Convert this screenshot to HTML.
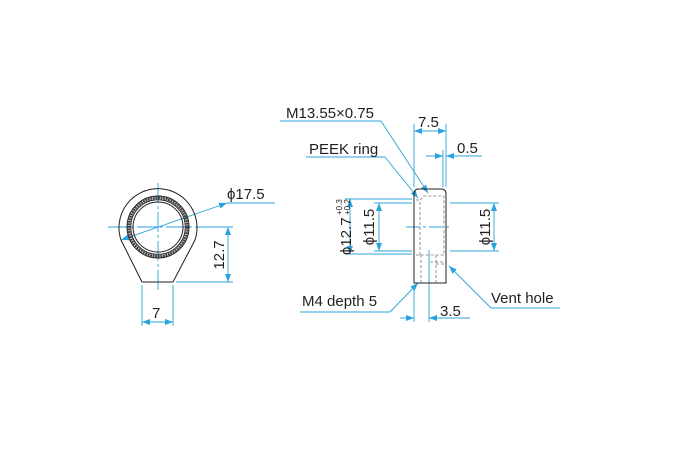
<!DOCTYPE html>
<html><head><meta charset="utf-8"><style>
html,body{margin:0;padding:0;background:#fff}
svg{display:block}
text{font-family:"Liberation Sans",sans-serif;font-size:15px;fill:#231f20}
</style></head><body>
<svg width="691" height="469" viewBox="0 0 691 469" xmlns="http://www.w3.org/2000/svg">
<defs>
<marker id="a" markerWidth="8" markerHeight="6" refX="8" refY="3" orient="auto-start-reverse" markerUnits="userSpaceOnUse"><path d="M0,0 L8,3 L0,6 z" fill="#29a3dc"/></marker>
</defs>
<g fill="none" stroke="#29a3dc" stroke-width="0.9">
<line x1="158" y1="183" x2="158" y2="290" stroke-dasharray="20,3,3,3"/>
<line x1="108" y1="227" x2="200" y2="227" stroke-dasharray="20,3,3,3"/>
<line x1="121" y1="240" x2="227" y2="203" marker-start="url(#a)" marker-end="url(#a)"/>
<line x1="227" y1="203" x2="275" y2="203"/>
<line x1="200" y1="227" x2="233" y2="227"/>
<line x1="176" y1="282" x2="233" y2="282"/>
<line x1="228" y1="227" x2="228" y2="282" marker-start="url(#a)" marker-end="url(#a)"/>
<line x1="142" y1="285" x2="142" y2="326"/>
<line x1="173" y1="285" x2="173" y2="326"/>
<line x1="142" y1="322" x2="173" y2="322" marker-start="url(#a)" marker-end="url(#a)"/>
<line x1="414" y1="124" x2="414" y2="187"/>
<line x1="446" y1="124" x2="446" y2="187"/>
<line x1="414" y1="131" x2="446" y2="131" marker-start="url(#a)" marker-end="url(#a)"/>
<line x1="443" y1="150" x2="443" y2="187"/>
<line x1="426" y1="156" x2="443" y2="156" marker-end="url(#a)"/>
<line x1="446" y1="156" x2="482" y2="156" marker-start="url(#a)"/>
<line x1="345" y1="199" x2="412" y2="199"/>
<line x1="345" y1="254" x2="412" y2="254"/>
<line x1="374" y1="203" x2="412" y2="203"/>
<line x1="374" y1="251" x2="412" y2="251"/>
<line x1="450" y1="203" x2="499" y2="203"/>
<line x1="450" y1="251" x2="499" y2="251"/>
<line x1="350" y1="199" x2="350" y2="254" marker-start="url(#a)" marker-end="url(#a)"/>
<line x1="379" y1="203" x2="379" y2="251" marker-start="url(#a)" marker-end="url(#a)"/>
<line x1="494" y1="203" x2="494" y2="251" marker-start="url(#a)" marker-end="url(#a)"/>
<line x1="406" y1="227" x2="452" y2="227" stroke-dasharray="14,3,3,3"/>
<line x1="429" y1="250" x2="429" y2="322"/>
<line x1="414" y1="285" x2="414" y2="322"/>
<line x1="400" y1="318" x2="414" y2="318" marker-end="url(#a)"/>
<line x1="429" y1="318" x2="470" y2="318" marker-start="url(#a)"/>
<line x1="280" y1="121" x2="381" y2="121"/>
<line x1="381" y1="121" x2="428" y2="193" marker-end="url(#a)"/>
<line x1="306" y1="157" x2="385" y2="157"/>
<line x1="385" y1="157" x2="418" y2="198" marker-end="url(#a)"/>
<line x1="300" y1="312" x2="390" y2="312"/>
<line x1="390" y1="312" x2="418" y2="283" marker-end="url(#a)"/>
<line x1="449" y1="266" x2="491" y2="308" marker-start="url(#a)"/>
<line x1="491" y1="308" x2="560" y2="308"/>
</g>
<g fill="none" stroke="#231f20" stroke-width="1">
<path d="M142,282 L121,240 A39,39 0 1 1 195,240 L173,282 Z"/>
<circle cx="158" cy="227" r="31"/>
<circle cx="158" cy="227" r="29.3" stroke="#444" stroke-width="2.6" stroke-dasharray="2,0.6"/>
<circle cx="158" cy="227" r="27.3"/>
<circle cx="158" cy="227" r="25"/>
<path d="M414,283 L414,194 Q414,189 419,189 L441,189 Q446,189 446,194 L446,283 Z"/>
</g>
<g fill="none" stroke="#777" stroke-width="0.8" stroke-dasharray="3,2">
<path d="M420,255 L420,200 L424,196 L444,196 L444,255 Z"/>
<line x1="416" y1="200" x2="420" y2="200"/>
<line x1="416" y1="255" x2="420" y2="255"/>
<line x1="421" y1="255" x2="421" y2="283"/>
<line x1="436" y1="255" x2="436" y2="283"/>
<line x1="436" y1="264" x2="446" y2="264"/>
<line x1="430" y1="262" x2="446" y2="262"/>
</g>
<text x="227" y="199">ϕ17.5</text>
<text x="224" y="255" transform="rotate(-90 224 255)" text-anchor="middle">12.7</text>
<text x="152" y="318">7</text>
<text x="286" y="118">M13.55×0.75</text>
<text x="418" y="127">7.5</text>
<text x="457" y="153">0.5</text>
<text x="309" y="154">PEEK ring</text>
<g transform="rotate(-90 346 227)">
<text x="318" y="232">ϕ12.7</text>
<text x="358" y="223" style="font-size:8px">+0.3</text>
<text x="358" y="231" style="font-size:8px">+0.2</text>
</g>
<text x="374" y="227" transform="rotate(-90 374 227)" text-anchor="middle">ϕ11.5</text>
<text x="490" y="227" transform="rotate(-90 490 227)" text-anchor="middle">ϕ11.5</text>
<text x="302" y="306">M4 depth 5</text>
<text x="491" y="303">Vent hole</text>
<text x="440" y="316">3.5</text>
</svg>
</body></html>
